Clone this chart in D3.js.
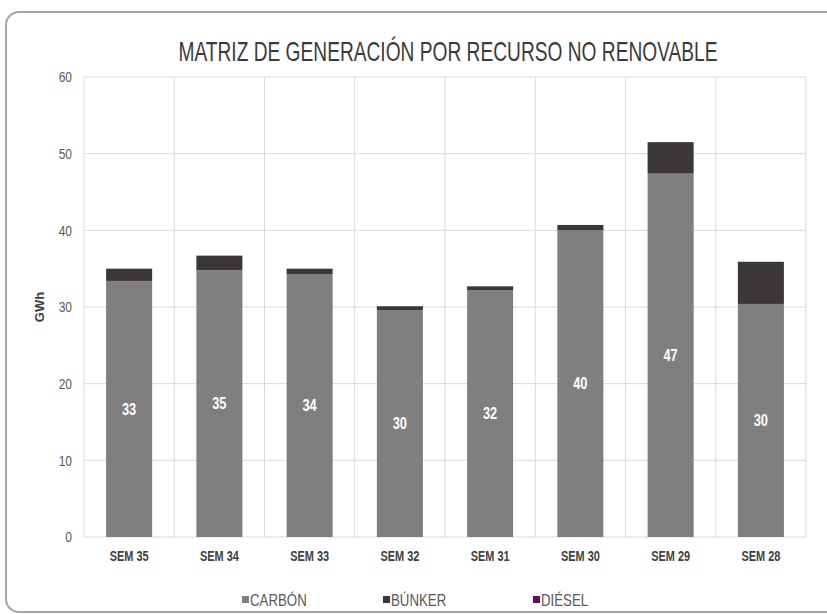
<!DOCTYPE html>
<html>
<head>
<meta charset="utf-8">
<script src="https://cdn.jsdelivr.net/npm/d3@7"></script>
<style>
  body { margin: 0; background: #fff; }
  text { font-family: "Liberation Sans Narrow", "Arial Narrow", "Liberation Sans", sans-serif; }
</style>
</head>
<body>
<div id="chart"></div>
<script>
// data
var weeks   = ["SEM 35", "SEM 34", "SEM 33", "SEM 32", "SEM 31", "SEM 30", "SEM 29", "SEM 28"];
var carbon  = [33.4, 34.8, 34.3, 29.6, 32.2, 40.0, 47.4, 30.4];
var bunker  = [1.6, 1.9, 0.7, 0.5, 0.5, 0.7, 4.1, 5.5];
var diesel  = [0, 0, 0, 0, 0, 0, 0, 0];
var yTicks  = [0, 10, 20, 30, 40, 50, 60];
var seriesNames = ["CARBÓN", "BÚNKER", "DIÉSEL"];
var colors = ["#7f7f7f", "#3b3737", "#5e0f5e"];

var W = 827, H = 614;
var margin = { top: 77, right: 21, bottom: 77, left: 84 };
var width = W - margin.left - margin.right,
    height = H - margin.top - margin.bottom;

// squeeze text horizontally (no narrow font installed)
function narrow(sel, k) {
    sel.each(function() {
        var t = d3.select(this);
        t.attr("textLength", this.getComputedTextLength() * k)
         .attr("lengthAdjust", "spacingAndGlyphs");
    });
}

var svg = d3.select("#chart").append("svg")
    .attr("width", W)
    .attr("height", H);

// frame
svg.append("rect")
    .attr("x", 6).attr("y", 12)
    .attr("width", W + 20).attr("height", H - 14)
    .attr("rx", 13).attr("ry", 13)
    .attr("fill", "#fff")
    .attr("stroke", "#a6a6a6")
    .attr("stroke-width", 2);

// title, squeezed with a transform so its box stays inside the page
svg.append("text")
    .attr("transform", "translate(" + (margin.left + width / 2 + 3) + ",61) scale(0.71,1)")
    .attr("text-anchor", "middle")
    .attr("font-size", 27)
    .attr("fill", "#3a3a3a")
    .text("MATRIZ DE GENERACIÓN POR RECURSO NO RENOVABLE");

var g = svg.append("g")
    .attr("transform", "translate(" + margin.left + "," + margin.top + ")");

var x = d3.scaleBand().domain(weeks).range([0, width]).paddingInner(0.49).paddingOuter(0.245);
var xGrid = d3.scaleBand().domain(weeks).range([0, width]);
var y = d3.scaleLinear().domain([0, 60]).range([height, 0]);

// horizontal grid
g.selectAll(".hgrid").data(yTicks).enter().append("line")
    .attr("class", "hgrid")
    .attr("x1", 0).attr("x2", width)
    .attr("y1", function(d) { return y(d); })
    .attr("y2", function(d) { return y(d); })
    .attr("stroke", "#d9d9d9").attr("stroke-width", 1);

// vertical grid
var vlines = d3.range(weeks.length + 1).map(function(i) { return i * xGrid.step(); });
g.selectAll(".vgrid").data(vlines).enter().append("line")
    .attr("class", "vgrid")
    .attr("x1", function(d) { return d; }).attr("x2", function(d) { return d; })
    .attr("y1", 0).attr("y2", height)
    .attr("stroke", "#d9d9d9").attr("stroke-width", 1);

// y axis
var yAxis = d3.axisLeft(y).tickValues(yTicks).tickSize(0).tickPadding(12);
g.append("g").attr("class", "y-axis").call(yAxis)
    .call(function(a) { a.select(".domain").remove(); })
    .selectAll("text")
    .attr("font-size", 15)
    .attr("fill", "#595959")
    .attr("font-family", "Liberation Sans, sans-serif")
    .call(narrow, 0.8);

// x axis
var xAxis = d3.axisBottom(x).tickSize(0).tickPadding(14);
g.append("g").attr("class", "x-axis")
    .attr("transform", "translate(0," + height + ")")
    .call(xAxis)
    .call(function(a) { a.select(".domain").remove(); })
    .selectAll("text")
    .attr("font-size", 14)
    .attr("font-weight", "bold")
    .attr("fill", "#404040")
    .attr("font-family", "Liberation Sans, sans-serif")
    .call(narrow, 0.78);

// axis title
svg.append("text")
    .attr("transform", "translate(44," + (margin.top + y(30)) + ") rotate(-90)")
    .attr("text-anchor", "middle")
    .attr("font-size", 13)
    .attr("font-weight", "bold")
    .attr("fill", "#404040")
    .text("GWh");

// stacked bars
var table = weeks.map(function(w, i) {
    return { week: w, c: carbon[i], b: bunker[i], d: diesel[i] };
});
var stack = d3.stack().keys(["c", "b", "d"])(table);

g.selectAll(".layer").data(stack).enter().append("g")
    .attr("class", "layer")
    .attr("fill", function(d, i) { return colors[i]; })
  .selectAll("rect").data(function(d) { return d; }).enter().append("rect")
    .attr("x", function(d) { return x(d.data.week); })
    .attr("width", x.bandwidth())
    .attr("y", function(d) { return y(d[1]); })
    .attr("height", function(d) { return y(d[0]) - y(d[1]); });

// carbon value labels
g.selectAll(".bar-label").data(table).enter().append("text")
    .attr("class", "bar-label")
    .attr("x", function(d) { return x(d.week) + x.bandwidth() / 2; })
    .attr("y", function(d) { return y(d.c / 2); })
    .attr("dy", ".35em")
    .attr("text-anchor", "middle")
    .attr("font-size", 16)
    .attr("font-weight", "bold")
    .attr("fill", "#fff")
    .text(function(d) { return Math.round(d.c); })
    .call(narrow, 0.8);

// legend
var legendX = [242, 383, 533];
var legend = svg.selectAll(".legend").data(seriesNames).enter().append("g")
    .attr("class", "legend")
    .attr("transform", function(d, i) { return "translate(" + legendX[i] + ",606)"; });
legend.append("rect")
    .attr("x", 0).attr("y", -10)
    .attr("width", 7).attr("height", 7)
    .attr("fill", function(d, i) { return colors[i]; });
legend.append("text")
    .attr("x", 8).attr("y", 0)
    .attr("font-size", 17)
    .attr("fill", "#595959")
    .text(function(d) { return d; })
    .call(narrow, 0.78);
</script>
</body>
</html>
